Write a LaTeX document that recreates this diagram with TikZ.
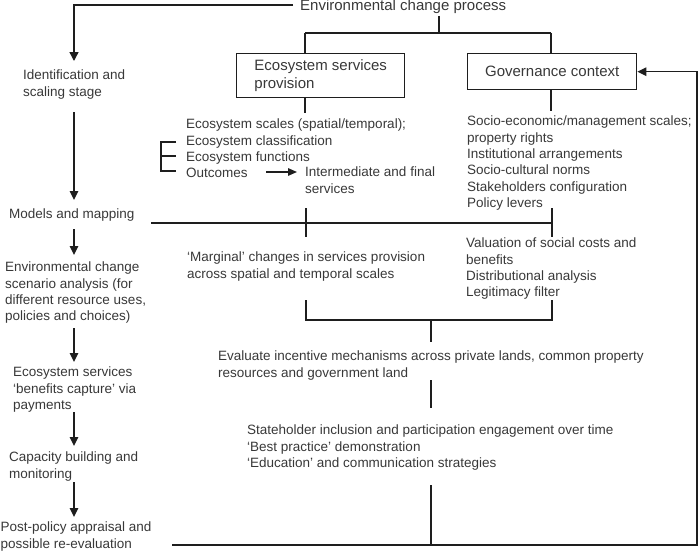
\documentclass[tikz,border=0pt]{standalone}
\usepackage{fontspec}
\setmainfont{Liberation Sans}
\usetikzlibrary{arrows.meta}
\definecolor{textc}{HTML}{383838}
\definecolor{linec}{HTML}{1E1E1E}
\begin{document}
\begin{tikzpicture}[x=1pt,y=-1pt,
  ln/.style={draw=linec, line width=1.4pt},
  arr/.style={ln, -{Triangle[length=9pt,width=8.5pt]}},
  txt/.style={anchor=north west, inner sep=0pt, align=left, text=textc,
    font=\fontsize{13.5}{16.3}\selectfont},
  bigtxt/.style={text=textc, font=\fontsize{15}{18}\selectfont},
  boxnode/.style={ln, bigtxt, align=left, inner xsep=0pt, inner ysep=0pt}]
\useasboundingbox (0,0) rectangle (700,551);

% ---------- title ----------
\node[bigtxt, anchor=base west, inner sep=0pt] (title) at (300,10.5) {Environmental change process};

% ---------- left column ----------
\node[txt] (ident) at (23,70) {Identification and\\scaling stage};
\node[txt] (models) at (9,209) {Models and mapping};
\node[txt] (envch) at (5,262) {Environmental change\\scenario analysis (for\\different resource uses,\\policies and choices)};
\node[txt] (ecoserv) at (13,367) {Ecosystem services\\‘benefits capture’ via\\payments};
\node[txt] (capac) at (9,452) {Capacity building and\\monitoring};
\node[txt] (post) at (0.5,522) {Post-policy appraisal and\\possible re-evaluation};

\coordinate (tL) at (293,5);
\coordinate (tC) at (74,5);
\coordinate (a1) at (74,61);
\draw[ln, -{Triangle[length=9pt,width=9pt]}] (tL) -- (tC) -- (a1);
\draw[arr] (74,112) -- (74,200);
\draw[arr] (74,229) -- (74,255);
\draw[arr] (74,328) -- (74,362);
\draw[arr] (74,412) -- (74,446);
\draw[arr] (74,482) -- (74,517);

% ---------- boxes ----------
\node[boxnode, draw, minimum width=168pt, minimum height=44pt, anchor=north west] (eco) at (236,53)
  {Ecosystem services\\provision};
\node[boxnode, draw, minimum width=169pt, minimum height=36pt, anchor=north west] (gov) at (467,53)
  {Governance context};

% title to boxes
\coordinate (tB) at (439,16);
\coordinate (tJ) at (439,33);
\coordinate (jE) at (305,33);
\coordinate (jG) at (551,33);
\draw[ln] (tB) -- (tJ);
\draw[ln] (jE) -- (jG);
\draw[ln] (jE) -- (jE |- eco.north);
\draw[ln] (jG) -- (jG |- gov.north);

% ---------- lists ----------
\node[txt] (ecolist) at (186,119) {Ecosystem scales (spatial/temporal);\\Ecosystem classification\\Ecosystem functions\\Outcomes};
\node[txt] (interm) at (305,167) {Intermediate and final\\services};
\node[txt] (govlist) at (467,116) {Socio-economic/management scales;\\property rights\\Institutional arrangements\\Socio-cultural norms\\Stakeholders configuration\\Policy levers};

\draw[ln] (305,97) -- (305,113);
\draw[ln] (551,89) -- (551,111);

% bracket
\draw[ln] (176,142) -- (161,142) -- (161,171) -- (176,171);
\draw[ln] (161,156) -- (176,156);
% outcomes arrow
\draw[ln, -{Triangle[length=9pt,width=7.5pt]}] (266,172) -- (297,172);

% ---------- models line ----------
\draw[ln] (151,223) -- (552,223);
\draw[ln] (306,208) -- (306,237);
\draw[ln] (552,208) -- (552,237);

\node[txt] (marginal) at (187,252) {‘Marginal’ changes in services provision\\across spatial and temporal scales};
\node[txt] (valuation) at (466,238) {Valuation of social costs and\\benefits\\Distributional analysis\\Legitimacy filter};

\draw[ln] (306,300) -- (306,320) -- (552,320) -- (552,300);
\draw[ln] (431,320) -- (431,342);

\node[txt] (evaluate) at (218,351) {Evaluate incentive mechanisms across private lands, common property\\resources and government land};
\draw[ln] (431,380) -- (431,408);

\node[txt] (stake) at (247,425) {Stateholder inclusion and participation engagement over time\\‘Best practice’ demonstration\\‘Education’ and communication strategies};
\draw[ln] (431,485) -- (431,545);

% ---------- feedback loop ----------
\coordinate (bL) at (172,545);
\coordinate (bR) at (697,545);
\draw[ln, -{Triangle[length=9pt,width=8.5pt]}] (bL) -- (bR) -- (bR |- gov.east) -- (gov.east);
\end{tikzpicture}
\end{document}
